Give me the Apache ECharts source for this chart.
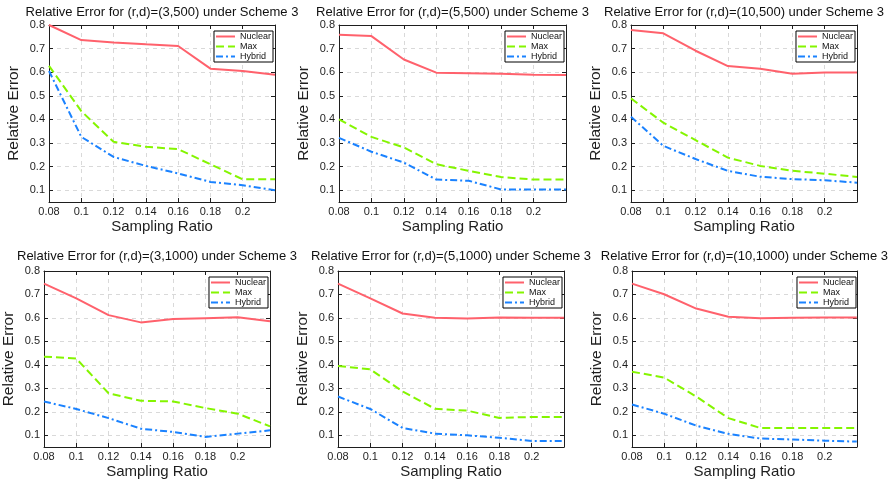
<!DOCTYPE html>
<html>
<head>
<meta charset="utf-8">
<title>Relative Error under Scheme 3</title>
<script src="https://cdn.jsdelivr.net/npm/echarts@6/dist/echarts.min.js"></script>
<style>
  html, body { margin: 0; padding: 0; background: #fff; }
  #chart { width: 890px; height: 484px; }
</style>
</head>
<body>
<div id="chart"></div>
<script>
'use strict';

// sampling ratios on the x axis and the labelled y ticks
const ratios = [0.08, 0.1, 0.12, 0.14, 0.16, 0.18, 0.2, 0.22];
const yTicks = [0.1, 0.2, 0.3, 0.4, 0.5, 0.6, 0.7, 0.8];
const seriesNames = ['Nuclear', 'Max', 'Hybrid'];

const titles = [
    'Relative Error for (r,d)=(3,500) under Scheme 3',
    'Relative Error for (r,d)=(5,500) under Scheme 3',
    'Relative Error for (r,d)=(10,500) under Scheme 3',
    'Relative Error for (r,d)=(3,1000) under Scheme 3',
    'Relative Error for (r,d)=(5,1000) under Scheme 3',
    'Relative Error for (r,d)=(10,1000) under Scheme 3'
];

// (r,d) = (3,500)
const nuclear3x500 = [0.800, 0.736, 0.726, 0.718, 0.711, 0.615, 0.605, 0.589];
const max3x500     = [0.627, 0.435, 0.305, 0.284, 0.274, 0.210, 0.146, 0.146];
const hybrid3x500  = [0.605, 0.326, 0.241, 0.203, 0.171, 0.135, 0.121, 0.100];

// (r,d) = (5,500)
const nuclear5x500 = [0.759, 0.753, 0.654, 0.598, 0.596, 0.593, 0.589, 0.588];
const max5x500     = [0.400, 0.326, 0.281, 0.210, 0.182, 0.156, 0.145, 0.145];
const hybrid5x500  = [0.322, 0.263, 0.217, 0.145, 0.140, 0.103, 0.103, 0.103];

// (r,d) = (10,500)
const nuclear10x500 = [0.779, 0.765, 0.691, 0.626, 0.615, 0.593, 0.599, 0.599];
const max10x500     = [0.489, 0.386, 0.312, 0.238, 0.203, 0.182, 0.170, 0.156];
const hybrid10x500  = [0.411, 0.288, 0.232, 0.182, 0.157, 0.147, 0.142, 0.132];

// (r,d) = (3,1000)
const nuclear3x1000 = [0.746, 0.683, 0.612, 0.581, 0.595, 0.599, 0.603, 0.586];
const max3x1000     = [0.435, 0.427, 0.279, 0.247, 0.244, 0.216, 0.192, 0.138];
const hybrid3x1000  = [0.244, 0.212, 0.173, 0.128, 0.114, 0.093, 0.107, 0.121];

// (r,d) = (5,1000)
const nuclear5x1000 = [0.746, 0.683, 0.619, 0.601, 0.598, 0.602, 0.601, 0.601];
const max5x1000     = [0.395, 0.381, 0.287, 0.213, 0.205, 0.174, 0.178, 0.178];
const hybrid5x1000  = [0.265, 0.212, 0.131, 0.107, 0.100, 0.089, 0.076, 0.076];

// (r,d) = (10,1000)
const nuclear10x1000 = [0.746, 0.701, 0.640, 0.605, 0.599, 0.601, 0.602, 0.602];
const max10x1000     = [0.371, 0.346, 0.265, 0.173, 0.131, 0.131, 0.131, 0.131];
const hybrid10x1000  = [0.231, 0.192, 0.141, 0.106, 0.086, 0.082, 0.077, 0.073];

const panelData = [
    [nuclear3x500, max3x500, hybrid3x500],
    [nuclear5x500, max5x500, hybrid5x500],
    [nuclear10x500, max10x500, hybrid10x500],
    [nuclear3x1000, max3x1000, hybrid3x1000],
    [nuclear5x1000, max5x1000, hybrid5x1000],
    [nuclear10x1000, max10x1000, hybrid10x1000]
];

// plot boxes in px
const boxes = [
    { left: 49, top: 25, width: 226, height: 177, titleGap: 6 },
    { left: 339, top: 25, width: 227, height: 177, titleGap: 6 },
    { left: 631, top: 25, width: 226, height: 177, titleGap: 6 },
    { left: 44, top: 271, width: 226, height: 176, titleGap: 8 },
    { left: 338, top: 271, width: 226, height: 176, titleGap: 8 },
    { left: 632, top: 271, width: 226, height: 176, titleGap: 8 }
];

const W = 890;
const font = "'Liberation Sans', Arial, Helvetica, sans-serif";
const ink = '#1e1e1e';
const gridColor = '#d9d9d9';
const colors = ['#ff616c', '#84f500', '#1a82ff'];
const lineTypes = ['solid', [8, 4], [7, 3, 2, 3]];

const option = {
    backgroundColor: '#fff',
    animation: false,
    textStyle: { fontFamily: font, color: ink },
    grid: [], xAxis: [], yAxis: [], legend: [], series: []
};

boxes.forEach((b, i) => {
    option.grid.push({ left: b.left, top: b.top, width: b.width, height: b.height, containLabel: false });

    const xBase = {
        type: 'value', gridIndex: i, min: 0.08, max: 0.22, interval: 0.02,
        axisLine: { show: true, lineStyle: { color: ink, width: 1 } },
        axisTick: { show: true, inside: true, length: 4, lineStyle: { color: ink } }
    };
    option.xAxis.push(Object.assign({}, xBase, {
        position: 'bottom',
        name: 'Sampling Ratio', nameLocation: 'middle', nameGap: 17,
        nameTextStyle: { fontSize: 15, color: ink, fontFamily: font },
        axisLabel: {
            fontSize: 11, color: ink, margin: 4, fontFamily: font,
            formatter: (v) => (v > 0.21 ? '' : String(+v.toFixed(2)))
        },
        splitLine: { show: true, lineStyle: { color: gridColor, type: [4, 4], width: 1 } }
    }));
    option.xAxis.push(Object.assign({}, xBase, {
        position: 'top',
        name: titles[i], nameLocation: 'middle', nameGap: b.titleGap,
        nameTextStyle: { fontSize: 13, color: '#111', fontFamily: font },
        axisLabel: { show: false },
        splitLine: { show: false }
    }));

    const yBase = {
        type: 'value', gridIndex: i, min: 0.05, max: 0.8,
        axisLine: { show: true, lineStyle: { color: ink, width: 1 } },
        axisTick: { show: true, inside: true, length: 4, customValues: yTicks, lineStyle: { color: ink } }
    };
    option.yAxis.push(Object.assign({}, yBase, {
        position: 'left',
        name: 'Relative Error', nameLocation: 'middle', nameGap: 27, nameRotate: 90,
        nameTextStyle: { fontSize: 15.5, color: ink, fontFamily: font },
        axisLabel: {
            fontSize: 11, color: ink, margin: 4, fontFamily: font, customValues: yTicks,
            formatter: (v) => String(+v.toFixed(2))
        },
        splitLine: { show: true, lineStyle: { color: gridColor, type: [4, 4], width: 1 } }
    }));
    option.yAxis.push(Object.assign({}, yBase, {
        position: 'right',
        axisLabel: { show: false },
        splitLine: { show: false }
    }));

    option.legend.push({
        data: seriesNames,
        orient: 'vertical',
        right: W - (b.left + b.width) + 2,
        top: b.top + 6,
        itemWidth: 19, itemHeight: 9, itemGap: 1,
        padding: [1, 2, 1, 1],
        borderColor: '#000', borderWidth: 1, backgroundColor: '#fff',
        itemStyle: { opacity: 0 },
        textStyle: { fontSize: 9, color: '#111', fontFamily: font, lineHeight: 9 }
    });

    panelData[i].forEach((vals, k) => {
        option.series.push({
            type: 'line', name: seriesNames[k],
            xAxisIndex: 2 * i, yAxisIndex: 2 * i,
            data: ratios.map((r, j) => [r, vals[j]]),
            symbol: 'none', showSymbol: false,
            lineStyle: { color: colors[k], width: 2, type: lineTypes[k] },
            itemStyle: { color: colors[k] },
            z: 3
        });
    });
});

document.addEventListener('DOMContentLoaded', () => {
    const chart = echarts.init(document.getElementById('chart'), null, { renderer: 'canvas' });
    chart.setOption(option);
});
</script>
</body>
</html>
